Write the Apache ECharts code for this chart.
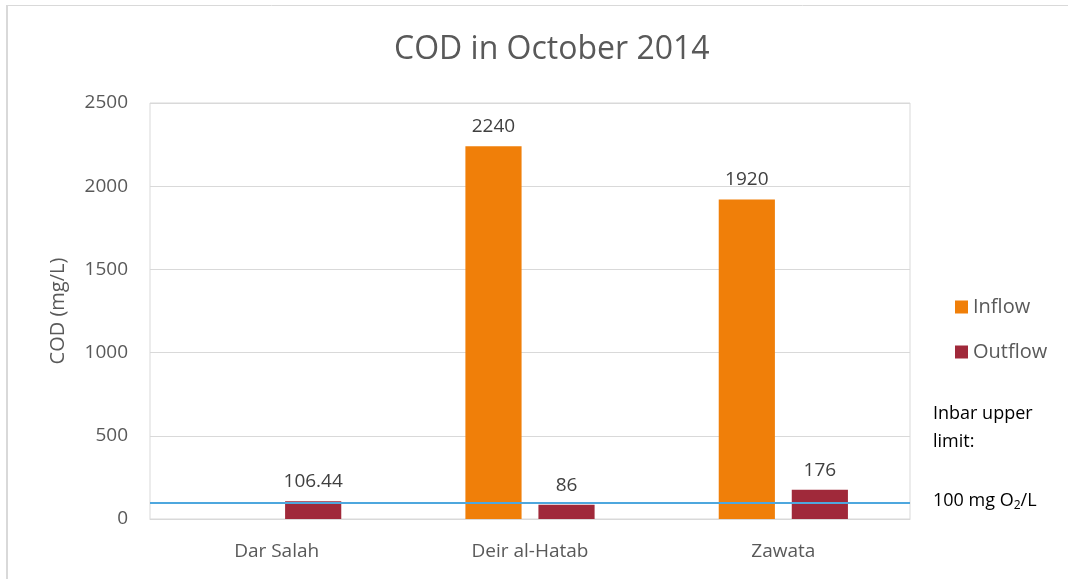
<!DOCTYPE html>
<html>
<head>
    <meta charset="UTF-8">
    <title>COD</title>
    <script src="https://cdn.jsdelivr.net/npm/echarts@6/dist/echarts.min.js"></script>
    <style>
        *{margin:0;padding:0}
        html,body{width:100%;height:100%;background:#fff}
        #main{width:1068px;height:579px}
    </style>
</head>
<body>
    <div id="main"></div>
    <script type="text/javascript">
        var sites = ['Dar Salah', 'Deir al-Hatab', 'Zawata'];
        var inflow = [null, 2240, 1920];
        var outflow = [106.44, 86, 176];
        var limitValue = 100;
        var yTicks = [0, 500, 1000, 1500, 2000, 2500];

        var font = 'Open Sans';
        var myChart = echarts.init(document.getElementById('main'));
        var option = {
            animation: false,
            title: {
                text: 'COD in October 2014',
                left: 389,
                top: 29,
                textStyle: {fontFamily: font, fontSize: 32, fontWeight: 'normal', color: '#595959'}
            },
            legend: {
                orient: 'vertical',
                left: 950,
                top: 292,
                itemWidth: 13,
                itemHeight: 13,
                itemGap: 25,
                icon: 'rect',
                textStyle: {fontFamily: font, fontSize: 20, color: '#595959'},
                data: ['Inflow', 'Outflow']
            },
            grid: {
                left: 150, right: 158, top: 103, bottom: 60,
                show: true, borderColor: '#d9d9d9', borderWidth: 1
            },
            xAxis: {
                type: 'category',
                data: sites,
                axisTick: {show: false},
                axisLine: {lineStyle: {color: '#d9d9d9', width: 1}},
                axisLabel: {fontFamily: font, fontSize: 19, color: '#595959', margin: 23}
            },
            yAxis: {
                type: 'value',
                min: yTicks[0],
                max: yTicks[yTicks.length - 1],
                interval: 500,
                name: 'COD (mg/L)',
                nameLocation: 'middle',
                nameGap: 82,
                nameTextStyle: {fontFamily: font, fontSize: 20, color: '#595959'},
                axisLabel: {
                    fontFamily: font, fontSize: 19, color: '#595959', margin: 22,
                    formatter: function (v) { return String(v); }
                },
                splitLine: {lineStyle: {color: '#d9d9d9'}}
            },
            graphic: [
                {type: 'line', shape: {x1: 6, y1: 5.5, x2: 1068, y2: 5.5}, style: {stroke: '#d9d9d9', lineWidth: 1}},
                {type: 'line', shape: {x1: 7, y1: 5, x2: 7, y2: 579}, style: {stroke: '#d9d9d9', lineWidth: 2}},
                {
                    type: 'text', left: 933, top: 400,
                    style: {text: 'Inbar upper\nlimit:', font: '18px "Open Sans"', fill: '#000', lineHeight: 28}
                },
                {
                    type: 'text', left: 933, top: 490,
                    style: {
                        text: '{n|100 mg O}{s|2}{n|/L}',
                        rich: {
                            n: {font: '18px "Open Sans"', fill: '#000', lineHeight: 26},
                            s: {font: '12px "Open Sans"', fill: '#000', lineHeight: 26, padding: [10, 0, 0, 0]}
                        }
                    }
                }
            ],
            series: [
                {
                    name: 'Inflow',
                    type: 'bar',
                    data: inflow,
                    barGap: '30%',
                    barCategoryGap: '49%',
                    itemStyle: {color: '#F07F09'},
                    label: {show: true, position: 'top', distance: 10, fontFamily: font, fontSize: 19, color: '#404040'}
                },
                {
                    name: 'Outflow',
                    type: 'bar',
                    data: outflow,
                    itemStyle: {color: '#A0293A'},
                    label: {show: true, position: 'top', distance: 10, fontFamily: font, fontSize: 19, color: '#404040'},
                    markLine: {
                        silent: true,
                        symbol: ['none', 'none'],
                        label: {show: false},
                        lineStyle: {color: '#4EA7DE', width: 2, type: 'solid'},
                        data: [{yAxis: limitValue}]
                    }
                }
            ]
        };
        myChart.setOption(option);
    </script>
</body>
</html>
